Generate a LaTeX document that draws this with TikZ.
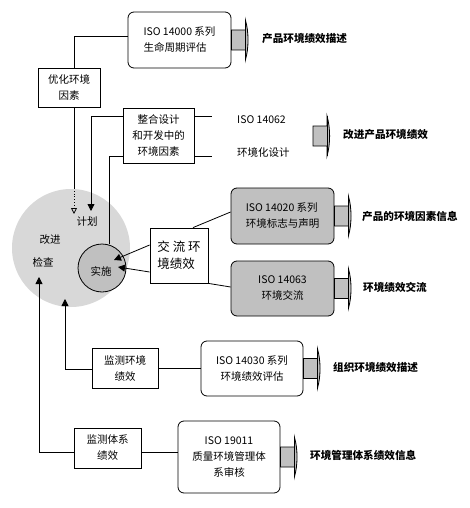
\documentclass[tikz,border=0pt]{standalone}
\usepackage{fontspec}
\setmainfont{Noto Sans CJK SC}
\usetikzlibrary{arrows.meta,calc}
\definecolor{silver}{RGB}{192,192,192}
\definecolor{hatch}{RGB}{216,216,216}
\tikzset{
 box/.style={draw, line width=0.8pt, fill=white, inner sep=0pt, font=\fontsize{10.5}{16}\selectfont, align=center},
 rbox/.style={box, rounded corners=6pt},
 gbox/.style={rbox, fill=silver},
 lbl/.style={font=\fontsize{10.6}{12}\selectfont\bfseries, anchor=west, inner sep=0pt},
 txt/.style={font=\fontsize{10.5}{12}\selectfont, inner sep=0pt},
 conn/.style={line width=0.8pt},
 arr/.style={conn, -{Triangle[length=7pt,width=7pt]}},
}
\newcommand\blockarrow[1]{%
 \begin{scope}[shift={(#1)}]
 \draw[line width=0.8pt, fill=silver] (0,-10) -- (14,-10) -- (14,-20) .. controls (17.5,-8) and (17.5,8) .. (14,20) -- (14,10) -- (0,10) -- cycle;
 \draw[line width=0.8pt] (14,-20) -- (14,20);
 \end{scope}}
\begin{document}
\begin{tikzpicture}[x=1pt,y=-1pt]
\useasboundingbox (0,0) rectangle (470,508);
\fill[white] (0,0) rectangle (470,508);

% PDCA circle
\node[circle, fill=hatch, minimum size=118pt, inner sep=0pt] (pdca) at (71,248) {};
\node[txt] (plan) at (87,222) {计划};
\node[txt] (act) at (50,240) {改进};
\node[txt] (check) at (43,262) {检查};
\node[circle, draw, line width=0.8pt, fill=silver, minimum size=48pt, inner sep=0pt] (ss) at (102,268) {};
\node[txt] (do) at (101,271) {实施};

% boxes
\node[rbox, minimum width=103pt, minimum height=56pt, align=left] (n14000) at (179.5,40) {ISO 14000 系列\\生命周期评估};
\node[box, minimum width=62pt, minimum height=39pt] (nopt) at (69,87.5) {优化环境\\因素};
\node[box, minimum width=71pt, minimum height=55pt] (nint) at (158.5,135.5) {整合设计\\和开发中的\\环境因素};
\node[txt, anchor=west] (t62) at (237,120) {ISO 14062};
\node[txt, anchor=west] (tecd) at (237,152) {环境化设计};
\node[box, minimum width=58pt, minimum height=55pt, align=left, font=\fontsize{12.5}{17}\selectfont] (njl) at (179,255.5) {交 流 环\\境绩效};
\node[gbox, minimum width=103pt, minimum height=56pt, align=left] (n14020) at (282.5,216) {ISO 14020 系列\\环境标志与声明};
\node[gbox, minimum width=103pt, minimum height=55pt] (n14063) at (282.5,288.5) {ISO 14063\\环境交流};
\node[box, minimum width=66pt, minimum height=40pt] (nmon) at (125,368) {监测环境\\绩效};
\node[rbox, minimum width=102pt, minimum height=55pt] (n14030) at (252,368.5) {ISO 14030 系列\\环境绩效评估};
\node[box, minimum width=67pt, minimum height=40pt] (nsys) at (107.5,448) {监测体系\\绩效};
\node[rbox, minimum width=102pt, minimum height=72pt] (n19011) at (229,457) {ISO 19011\\质量环境管理体\\系审核};

% block arrows and outcome labels
\coordinate (a62) at (313,136);
\blockarrow{n14000.east}
\blockarrow{a62}
\blockarrow{n14020.east}
\blockarrow{n14063.east}
\blockarrow{n14030.east}
\blockarrow{n19011.east}
\node[lbl] (l1) at (262,39) {产品环境绩效描述};
\node[lbl] (l2) at (343,135) {改进产品环境绩效};
\node[lbl] (l3) at (362,216) {产品的环境因素信息};
\node[lbl] (l4) at (363,287) {环境绩效交流};
\node[lbl] (l5) at (333,367) {组织环境绩效描述};
\node[lbl] (l6) at (310,455) {环境管理体系绩效信息};

% connectors
\coordinate (cin) at (74,188);
\coordinate (pt1) at (74,214);
\coordinate (pt2) at (91,211);
\coordinate (e1) at (212,116);
\coordinate (e2) at (212,156);
\coordinate (ct) at (65,299);
\coordinate (ck) at (39,277);
\draw[conn] (nopt.north -| 74,0) |- (n14000.west |- 0,36);
\draw[conn] (nopt.south -| 74,0) -- (cin);
\draw[conn, dotted, -{Triangle[open,length=6pt,width=6pt]}] (cin) -- (pt1);
\draw[arr] (nint.west |- 0,116) -| (pt2);
\draw[conn] (nint.west |- 0,156) -| ([xshift=7pt]ss.north);
\draw[conn] (nint.east |- e1) -- (e1);
\draw[conn] (nint.east |- e2) -- (e2);
\draw[conn] (njl.north -| 193,0) -- (n14020.west |- 0,212);
\draw[conn] (njl.south east) -- (n14063.west |- 0,287);
\draw[arr] (njl.west |- 0,245) -- ([shift={(12,-8)}]ss.center);
\draw[arr] (njl.west |- 0,272) -- ([shift={(16,-1)}]ss.center);
\draw[arr] (nmon.west |- 0,369) -| (ct);
\draw[conn] (nmon.east) -- (nmon.east -| n14030.west);
\draw[arr] (nsys.west |- 0,452) -| (ck);
\draw[conn] (nsys.east |- 0,452) -- (n19011.west |- 0,452);
\end{tikzpicture}
\end{document}
